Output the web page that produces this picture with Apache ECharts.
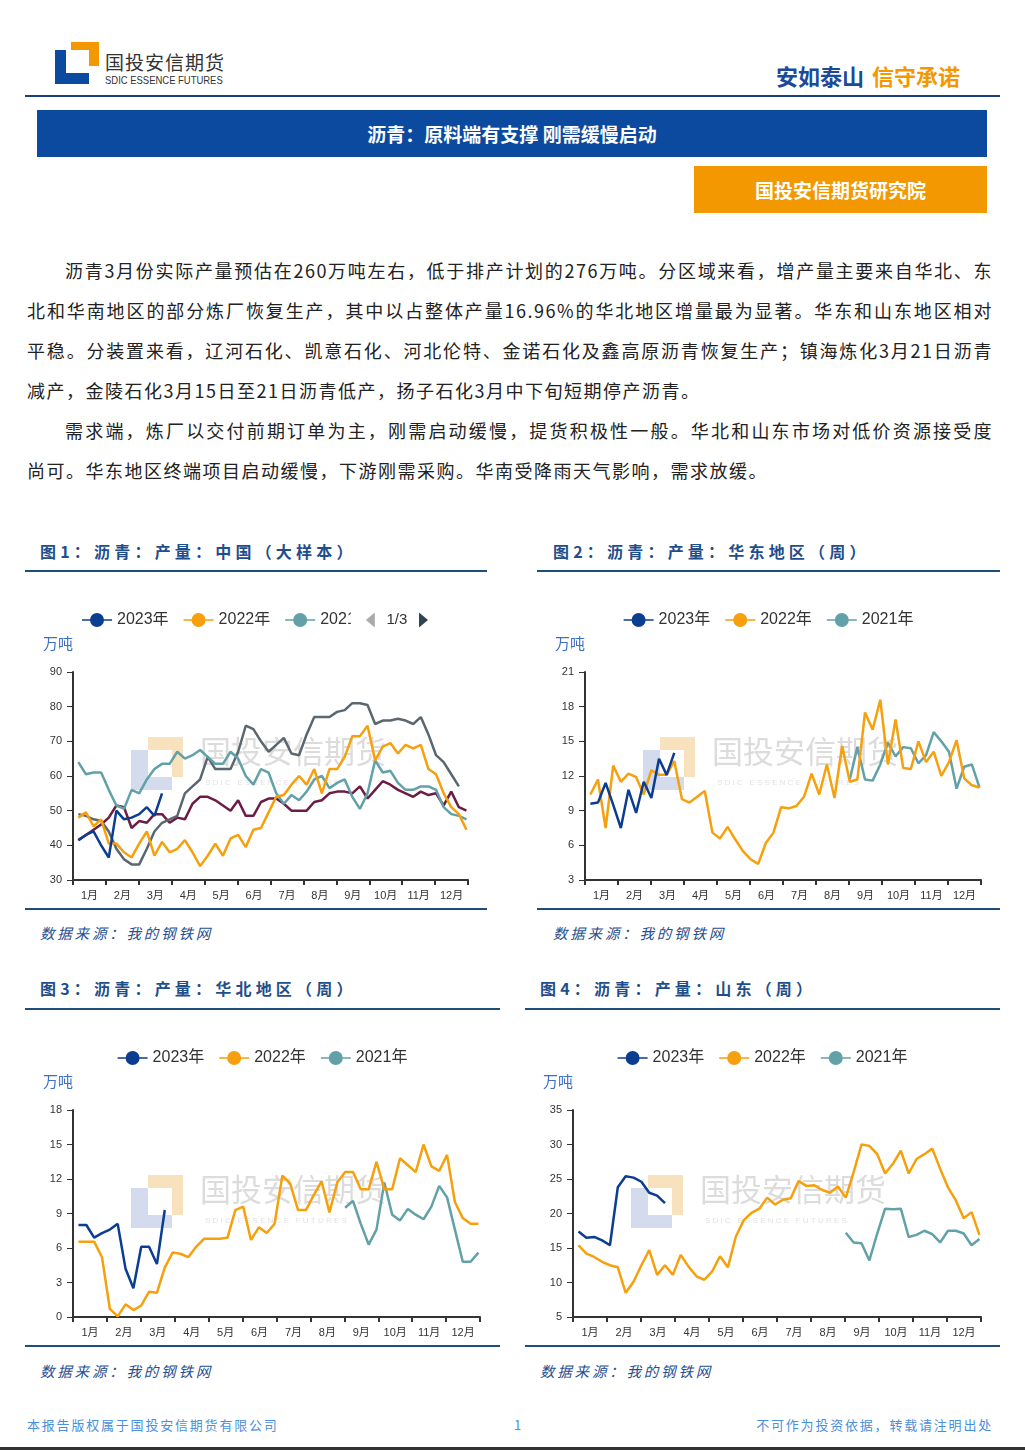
<!DOCTYPE html>
<html><head><meta charset="utf-8">
<script src="https://cdn.jsdelivr.net/npm/echarts/dist/echarts.min.js"></script>
<style>
html,body{margin:0;padding:0;background:#fff;}
body{width:1025px;height:1450px;position:relative;overflow:hidden;font-family:"Noto Sans CJK SC","Noto Sans",sans-serif;}
.a{position:absolute;}
.ctitle{font-size:16px;font-weight:bold;letter-spacing:4.2px;color:#1f4e8c;line-height:20px;white-space:nowrap;}
.src{font-size:14.5px;font-style:italic;letter-spacing:2.8px;color:#2a4f8f;line-height:20px;white-space:nowrap;}
.hl{height:1.5px;background:#1f4e79;}
.body{left:27px;top:250px;width:966px;font-size:18px;color:#222;letter-spacing:1.5px;}
.body div{height:40px;line-height:40px;white-space:nowrap;}
.j{text-align:justify;text-align-last:justify;white-space:normal !important;}
.chart{position:absolute;}
.foot{font-size:13px;color:#4a8fdc;letter-spacing:1.8px;line-height:18px;white-space:nowrap;}
</style></head>
<body>
<!-- header logo -->
<div class="a" style="left:71px;top:42px;width:28px;height:24px;background:#f39800"></div>
<div class="a" style="left:55px;top:50px;width:34px;height:34px;background:#0b4a9e"></div>
<div class="a" style="left:66px;top:50px;width:23px;height:23px;background:#fff"></div>
<div class="a" style="left:105px;top:51px;font-size:19px;line-height:22px;letter-spacing:1px;color:#333;white-space:nowrap">国投安信期货</div>
<div class="a" style="left:105px;top:74px;font-size:11px;line-height:12px;color:#333;font-family:'Liberation Sans',sans-serif;white-space:nowrap;transform:scaleX(0.86);transform-origin:0 0">SDIC ESSENCE FUTURES</div>
<div class="a" style="left:776px;top:61px;font-size:22px;line-height:28px;font-weight:bold;white-space:nowrap"><span style="color:#1a4a9a">安如泰山</span><span style="color:#f39800;margin-left:8px">信守承诺</span></div>
<div class="a" style="left:25px;top:95px;width:975px;height:2px;background:#1b3f7c"></div>
<div class="a" style="left:37px;top:110px;width:950px;height:47px;background:#0b4a9e;color:#fff;font-size:19px;font-weight:bold;line-height:47px;text-align:center">沥青：原料端有支撑 刚需缓慢启动</div>
<div class="a" style="left:694px;top:166px;width:293px;height:47px;background:#f39800;color:#fff;font-size:19px;font-weight:bold;line-height:47px;text-align:center">国投安信期货研究院</div>

<!-- body text -->
<div class="a body">
<div class="j" style="padding-left:38px">沥青3月份实际产量预估在260万吨左右，低于排产计划的276万吨。分区域来看，增产量主要来自华北、东</div>
<div class="j">北和华南地区的部分炼厂恢复生产，其中以占整体产量16.96%的华北地区增量最为显著。华东和山东地区相对</div>
<div class="j">平稳。分装置来看，辽河石化、凯意石化、河北伦特、金诺石化及鑫高原沥青恢复生产；镇海炼化3月21日沥青</div>
<div>减产，金陵石化3月15日至21日沥青低产，扬子石化3月中下旬短期停产沥青。</div>
<div class="j" style="padding-left:38px">需求端，炼厂以交付前期订单为主，刚需启动缓慢，提货积极性一般。华北和山东市场对低价资源接受度</div>
<div>尚可。华东地区终端项目启动缓慢，下游刚需采购。华南受降雨天气影响，需求放缓。</div>
</div>

<!-- chart 1 -->
<div class="a ctitle" style="left:40px;top:541px">图1：沥青：产量：中国（大样本）</div>
<div class="a hl" style="left:25px;top:570px;width:462px"></div>
<div id="c1" class="chart" style="left:25px;top:590px;width:462px;height:316px"></div>
<div class="a hl" style="left:25px;top:908px;width:462px"></div>
<div class="a src" style="left:40px;top:923px">数据来源：我的钢铁网</div>

<!-- chart 2 -->
<div class="a ctitle" style="left:553px;top:541px">图2：沥青：产量：华东地区（周）</div>
<div class="a hl" style="left:537px;top:570px;width:463px"></div>
<div id="c2" class="chart" style="left:537px;top:590px;width:463px;height:316px"></div>
<div class="a hl" style="left:537px;top:908px;width:463px"></div>
<div class="a src" style="left:553px;top:923px">数据来源：我的钢铁网</div>

<!-- chart 3 -->
<div class="a ctitle" style="left:40px;top:978px">图3：沥青：产量：华北地区（周）</div>
<div class="a hl" style="left:25px;top:1008px;width:475px"></div>
<div id="c3" class="chart" style="left:25px;top:1028px;width:475px;height:316px"></div>
<div class="a hl" style="left:25px;top:1345px;width:475px"></div>
<div class="a src" style="left:40px;top:1361px">数据来源：我的钢铁网</div>

<!-- chart 4 -->
<div class="a ctitle" style="left:540px;top:978px">图4：沥青：产量：山东（周）</div>
<div class="a hl" style="left:525px;top:1008px;width:475px"></div>
<div id="c4" class="chart" style="left:525px;top:1028px;width:475px;height:316px"></div>
<div class="a hl" style="left:525px;top:1345px;width:475px"></div>
<div class="a src" style="left:540px;top:1361px">数据来源：我的钢铁网</div>

<!-- footer -->
<div class="a foot" style="left:27px;top:1416px">本报告版权属于国投安信期货有限公司</div>
<div class="a foot" style="left:514px;top:1416px">1</div>
<div class="a foot" style="right:32px;top:1416px">不可作为投资依据，转载请注明出处</div>
<div class="a" style="left:0;top:1447px;width:1025px;height:3px;background:#333"></div>

<script>
// ---------- data ----------
const months = ['1月','2月','3月','4月','5月','6月','7月','8月','9月','10月','11月','12月'];
const yearNames = ['2023年','2022年','2021年','2020年','2019年'];
const yearColors = ['#0b3d91','#f5a00c','#62a1a8','#5b6770','#6b1d45'];

// 图1 中国（大样本），周度，万吨（第1周起）
const cn2023 = [41.5,43,44,40,36.5,50,47.5,48,49,51,48.5,55];
const cn2022 = [48,49.5,45.5,47.5,40.5,40.5,38,36.5,40.5,44,37,41,38,39,41.5,38,34,37,40.5,37,42,43,39.5,44.5,45,49.5,54,54.5,57.5,60,57.5,62,55,62,62,65.5,71.5,71.5,74.5,64.5,68.5,69.5,66.5,69,68,69,62,60.5,55,51,49,44.5];
const cn2021 = [64,60.5,61,61,56,51.5,50.5,56,55,59,62,63.5,63.5,67,65,66,67.5,65.5,63.5,63.5,67,65,60,57.5,62,61,55,52,54.5,53,55.5,59,60,56.5,58,59,54,50.5,55,64.5,61,61.5,58,56,56,57,57,56,51,49,48.5,47.5];
const cn2020 = [49,48.5,47.5,47,44,39,36,34.5,34.5,39,44,46.5,47.5,48.5,55,57,59,65.5,62,62,62,67,74.5,73.5,70,67,69,71,66.5,66,72,77,77,77,78.5,79,81,81,80.5,75,76,76,76.5,76,75,77,72,66,64,60.5,57];
const cn2019 = [41.5,43,44.5,46,48,51.5,51,45,47,46.5,49,49,46.5,48,47.5,52,54,54,53,51.5,50,53,48.5,48.5,52.5,53.5,53.5,52,50,50,50,52.5,53,55,55.5,55.5,55,57,53.5,56,58.5,57.5,56,55,54,55.5,54.5,55,51.5,55.5,51,50];

// 图2 华东地区（周）
const ec2023 = [9.6,9.7,11.4,9.5,7.5,10.8,8.8,11.5,10.1,13.5,12.1,14];
const ec2022 = [10.4,11.7,7.5,12.9,11.5,12.2,11.9,10.4,12.5,12.1,12.1,13.3,10,9.7,10.2,10.7,7.1,6.6,7.6,6.5,5.5,4.8,4.4,6.2,7.1,9.3,9.2,9.4,10.2,12.2,10.4,13,10.1,14.6,11.5,11.7,17.5,16,18.6,13,16.9,12.7,12.6,15,13.2,14.1,12,13.2,15.1,11.8,11.2,11];
const ec2021 = [11.7,14.5,11.7,11.6,13,14.9,13.7,14.5,14.4,13.1,13.8,15.8,15,14.1,10.9,12.8,13,11]; // 第35周起

// 图3 华北地区（周）
const nc2023 = [8,8,6.9,7.3,7.6,8.1,4.2,2.5,6.1,6.1,4.6,9.3];
const nc2022 = [6.55,6.55,6.55,5.2,0.7,0.05,1.1,0.6,1.0,2.2,2.1,4.3,5.6,5.5,5.2,6.1,6.8,6.8,6.8,6.9,9.3,9.6,6.7,7.8,7.3,8.1,12.3,11.6,9.3,9.3,10.6,11.8,9.1,11.7,12.6,12.6,11.1,11.1,13.5,11.1,11.1,13.8,13.2,12.6,15,13.1,12.7,14.1,10,8.6,8.1,8.1];
const nc2021 = [9.5,10.1,8.1,6.3,7.6,11.7,8.9,8.4,9.4,8.9,8.5,9.6,11.4,10.4,7.6,4.8,4.8,5.6]; // 第35周起

// 图4 山东（周）
const sd2023 = [17.4,16.5,16.6,16.1,15.4,23.8,25.4,25.2,24.6,23,22.6,21.5];
const sd2022 = [15.4,14.2,13.7,13,12.5,12.2,8.5,10.1,12.5,14.7,11.1,12.5,11.1,14,12.3,10.9,10.4,11.6,13.8,12.2,16.6,19,20.1,20.7,22.3,21.3,22,22.2,24.7,24,24.1,23.4,23,23.9,22.3,26,30,29.8,28.6,25.8,27.2,29.1,25.8,27.9,28.6,29.4,26.5,23.8,21.9,19.3,20.2,16.9];
const sd2021 = [17.2,15.8,15.7,13.2,17.1,20.7,20.6,20.7,16.6,16.9,17.5,17,15.8,17.5,17.5,17.1,15.4,16.3]; // 第35周起

const startWeek2021 = 35;

// ---------- helpers ----------
const FONT = '"Liberation Sans","Noto Sans CJK SC",sans-serif';
// legend icon: thin line through a filled circle
const LEGEND_ICON = 'path://M0,6.3H30V7.7H0Z M22,7A7,7 0 1 1 8,7A7,7 0 1 1 22,7Z';

function watermark(gx, gy) {
  return [
    {type:'rect', left:gx+75, top:gy+65, shape:{width:35,height:40}, style:{fill:'#f8e2bd'}, silent:true, z:0},
    {type:'rect', left:gx+58, top:gy+78, shape:{width:41,height:40}, style:{fill:'#d3dbed'}, silent:true, z:0},
    {type:'rect', left:gx+75, top:gy+78, shape:{width:24,height:27}, style:{fill:'#ffffff'}, silent:true, z:0},
    {type:'text', left:gx+127, top:gy+64, style:{text:'国投安信期货', fill:'#dcdcdc', font:'31px "Noto Sans CJK SC"'}, silent:true, z:0},
    {type:'text', left:gx+132, top:gy+107, style:{text:'S D I C   E S S E N C E   F U T U R E S', fill:'#e2e2e2', font:'8px "Liberation Sans"'}, silent:true, z:0}
  ];
}

function makeChart(id, cfg) {
  const chart = echarts.init(document.getElementById(id), null, {renderer:'canvas'});
  const g = cfg.grid;
  chart.setOption({
    animation: false,
    textStyle: {fontFamily: FONT},
    legend: Object.assign({
      top: 22, padding: 0, itemWidth: 30, itemHeight: 14, itemGap: 15,
      icon: LEGEND_ICON,
      textStyle: {fontSize: 16, color: '#333', fontFamily: FONT},
      data: cfg.series.map(s => s.name)
    }, cfg.legend),
    grid: {left: g.left, top: g.top, width: g.width, height: g.height, containLabel: false},
    xAxis: [
      {type:'category', data: months, boundaryGap: true,
       axisLine:{lineStyle:{color:'#333', width:2}},
       axisTick:{show:true, length:5, lineStyle:{color:'#333', width:2}},
       axisLabel:{color:'#333', fontSize:11, margin:10}},
      {type:'value', show:false, min:0.3, max:52.2}
    ],
    yAxis: {type:'value', min: cfg.y[0], max: cfg.y[1], interval: cfg.y[2],
      name:'万吨', nameGap: 20, nameTextStyle:{color:'#3d6fc3', fontSize:15, align:'right'},
      axisLine:{show:true, lineStyle:{color:'#333', width:2}},
      axisTick:{show:true, length:6, lineStyle:{color:'#333'}},
      axisLabel:{color:'#333', fontSize:11, margin:11},
      splitLine:{show:false}},
    graphic: watermark(g.left, g.top),
    series: cfg.series.map(s => ({
      type:'line', name: s.name, xAxisIndex: 1,
      data: s.values.map((v, i) => [s.start + i, v]),
      showSymbol: false, symbol: 'circle', symbolSize: 14,
      lineStyle: {width: s.w || 2.5, color: s.color},
      itemStyle: {color: s.color},
      z: s.z
    }))
  });
}

function yearSeries(arrs, starts) {
  return arrs.map((a, i) => ({name: yearNames[i], color: yearColors[i], values: a, start: starts[i], z: 10 - i}));
}

makeChart('c1', {
  grid: {left:48, top:82, width:395, height:208},
  y: [30, 90, 10],
  legend: {type:'scroll', left:57, width:346,
    pageIconColor:'#2f4554', pageIconInactiveColor:'#aaa', pageIconSize:15,
    pageTextStyle:{color:'#333', fontSize:15}, pageButtonItemGap:5},
  series: yearSeries([cn2023, cn2022, cn2021, cn2020, cn2019], [1,1,1,1,1])
});
makeChart('c2', {
  grid: {left:48, top:82, width:396, height:208},
  y: [3, 21, 3],
  legend: {left:'center'},
  series: yearSeries([ec2023, ec2022, ec2021], [1,1,startWeek2021])
});
makeChart('c3', {
  grid: {left:48, top:82, width:407, height:207},
  y: [0, 18, 3],
  legend: {left:'center'},
  series: yearSeries([nc2023, nc2022, nc2021], [1,1,startWeek2021])
});
makeChart('c4', {
  grid: {left:48, top:82, width:408, height:207},
  y: [5, 35, 5],
  legend: {left:'center'},
  series: yearSeries([sd2023, sd2022, sd2021], [1,1,startWeek2021])
});
</script>
</body></html>
